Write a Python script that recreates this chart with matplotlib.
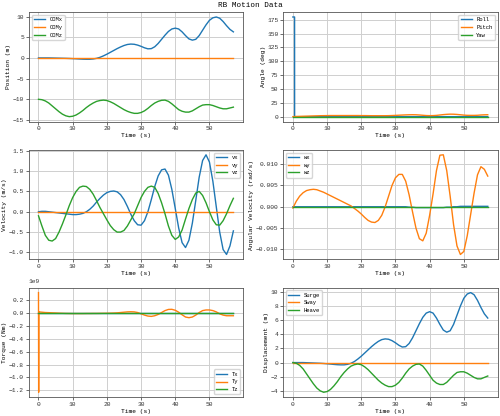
import numpy as np
import matplotlib.pyplot as plt
from matplotlib.ticker import MultipleLocator

plt.rcParams["font.family"] = ["Liberation Mono", "DejaVu Sans Mono"]
plt.rcParams["font.size"] = 4.5

t = np.arange(0, 58)

surge = [0, 0, 0, 0, -0.02, -0.04, -0.06, -0.08, -0.1, -0.13, -0.17, -0.21, -0.26, -0.3, -0.32, -0.32,
         -0.25, -0.1, 0.15, 0.5, 0.9, 1.35, 1.8, 2.25, 2.65, 3.0, 3.25, 3.35, 3.3, 3.1, 2.8, 2.45, 2.2,
         2.25, 2.7, 3.5, 4.5, 5.5, 6.4, 7.0, 7.2, 7.0, 6.3, 5.4, 4.6, 4.3, 4.5, 5.4, 6.7, 8.0, 9.1, 9.7,
         9.9, 9.6, 8.8, 7.8, 6.9, 6.3]
heave = [0, -0.1, -0.4, -0.9, -1.6, -2.3, -3.0, -3.6, -4.0, -4.2, -4.1, -3.8, -3.3, -2.7, -2.0, -1.4,
         -0.9, -0.5, -0.3, -0.2, -0.3, -0.6, -1.0, -1.5, -2.0, -2.5, -2.9, -3.2, -3.4, -3.4, -3.2, -2.8,
         -2.2, -1.5, -0.9, -0.5, -0.25, -0.2, -0.5, -1.1, -1.8, -2.5, -2.9, -3.1, -3.1, -2.8, -2.3, -1.8,
         -1.4, -1.3, -1.3, -1.5, -1.8, -2.1, -2.3, -2.3, -2.1, -1.9]
com_x = surge
com_y = [0.0] * 58
com_z = [h - 10 for h in heave]

vx = [0, 0.01, 0.01, 0, -0.01, -0.02, -0.03, -0.04, -0.05, -0.06, -0.07, -0.07, -0.06, -0.04, 0.0, 0.06,
      0.14, 0.24, 0.33, 0.41, 0.47, 0.5, 0.51, 0.49, 0.42, 0.3, 0.13, -0.06, -0.22, -0.32, -0.33, -0.22,
      0.0, 0.3, 0.62, 0.88, 1.03, 1.05, 0.9, 0.55, 0.08, -0.4, -0.76, -0.88, -0.7, -0.28, 0.28, 0.85,
      1.26, 1.4, 1.22, 0.75, 0.12, -0.5, -0.93, -1.05, -0.84, -0.47]
vy = [0.0] * 58
vz = [-0.1, -0.35, -0.58, -0.7, -0.72, -0.66, -0.5, -0.3, -0.08, 0.15, 0.35, 0.5, 0.6, 0.63, 0.62, 0.55,
      0.43, 0.27, 0.1, -0.05, -0.2, -0.34, -0.44, -0.5, -0.5, -0.46, -0.35, -0.2, -0.05, 0.15, 0.35, 0.5,
      0.6, 0.63, 0.6, 0.45, 0.22, -0.05, -0.35, -0.58, -0.68, -0.62, -0.45, -0.18, 0.08, 0.3, 0.46, 0.5,
      0.4, 0.22, 0.0, -0.2, -0.32, -0.33, -0.22, -0.05, 0.15, 0.33]

wx = [0.0] * 34 + [-0.0001, -0.0001, -0.0002, -0.0002, -0.0002, -0.0002, -0.0002, -0.0002, -0.0002,
                   -0.0002, -0.0002, -0.0001, -0.0001, 0.0, 0.0, 0.0001, 0.0001, 0.0001, 0.0001, 0.0001,
                   0.0001, 0.0001, 0.0001, 0.0001]
wy = [-0.0003, 0.0013, 0.0025, 0.0033, 0.0038, 0.004, 0.0041, 0.004, 0.0037, 0.0034, 0.003, 0.0026,
      0.0022, 0.0018, 0.0014, 0.001, 0.0006, 0.0002, -0.0004, -0.001, -0.0017, -0.0025, -0.0032, -0.0036,
      -0.0037, -0.0032, -0.002, 0.0, 0.0025, 0.005, 0.0068, 0.0076, 0.0076, 0.006, 0.0028, -0.0012,
      -0.005, -0.0075, -0.008, -0.0062, -0.002, 0.003, 0.0085, 0.0121, 0.0122, 0.0085, 0.0025, -0.0042,
      -0.0092, -0.0112, -0.0105, -0.0068, -0.0018, 0.0032, 0.0075, 0.0094, 0.0088, 0.0072]
wz = [0.0] * 58

# angles: roll starts at 180 deg for the first half second
t_ang = np.concatenate([[0, 0.5, 0.51], t[1:]])
roll = [180, 180, 0] + [0.0] * 57
pitch = [0, 0, 0.2] + [0.3, 0.5, 0.7, 0.9, 1.1, 1.3, 1.5, 1.7, 1.8, 1.9, 2.0, 2.0, 2.0, 2.0, 2.0, 2.0,
                       2.0, 2.0, 2.0, 1.9, 1.9, 1.8, 1.7, 1.7, 1.7, 1.7, 1.7, 1.8, 2.0, 2.3, 2.6, 2.9,
                       3.2, 3.4, 3.5, 3.4, 3.0, 2.5, 2.0, 1.8, 1.9, 2.3, 3.0, 3.7, 4.2, 4.5, 4.4, 4.0,
                       3.4, 2.8, 2.4, 2.3, 2.3, 2.5, 3.0, 3.3, 3.5]
yaw = [0.0] * 60

# torque: large spike at t=0
t_tq = np.concatenate([[0, 0.05, 0.1], t[1:]])
tx = [0.0] * 60
ty = [0.32e9, -1.23e9, 0.02e9] + [v * 1e9 for v in
      [0.015, 0.01, 0.008, 0.005, 0.003, 0.0, -0.002, -0.004, -0.005, -0.006, -0.006, -0.006, -0.006,
       -0.005, -0.005, -0.004, -0.004, -0.003, -0.002, -0.001, 0.0, 0.002, 0.005, 0.01, 0.015, 0.02,
       0.022, 0.02, 0.01, -0.01, -0.03, -0.045, -0.05, -0.04, -0.02, 0.01, 0.04, 0.058, 0.06, 0.045,
       0.015, -0.025, -0.06, -0.07, -0.06, -0.03, 0.01, 0.04, 0.05, 0.05, 0.04, 0.02, -0.01, -0.03,
       -0.04, -0.04, -0.04][:57]]
tz = [0.0] * 60

fig, axes = plt.subplots(3, 2, figsize=(5, 4.16), dpi=100)
fig.suptitle("RB Motion Data", fontsize=5.5, y=0.995)


def style(ax, ylabel):
    ax.set_xlabel("Time (s)")
    ax.set_ylabel(ylabel)
    ax.grid(True, color="#cfcfcf", linewidth=0.7)
    ax.tick_params(length=2, width=0.5, pad=1.5, colors="#333333")
    for s in ax.spines.values():
        s.set_linewidth(0.6)
        s.set_color("#555555")
    ax.xaxis.labelpad = 1
    ax.yaxis.labelpad = 1


LW = 1.0

ax = axes[0, 0]
ax.plot(t, com_x, label="COMx", lw=LW)
ax.plot(t, com_y, label="COMy", lw=LW)
ax.plot(t, com_z, label="COMz", lw=LW)
style(ax, "Position (m)")
ax.legend(loc="upper left", fontsize=4)

ax = axes[0, 1]
ax.plot(t_ang, roll, label="Roll", lw=LW)
ax.plot(t_ang, pitch, label="Pitch", lw=LW)
ax.plot(t_ang, yaw, label="Yaw", lw=LW)
style(ax, "Angle (deg)")
ax.legend(loc="upper right", fontsize=4)

ax = axes[1, 0]
ax.plot(t, vx, label="vx", lw=LW)
ax.plot(t, vy, label="vy", lw=LW)
ax.plot(t, vz, label="vz", lw=LW)
style(ax, "Velocity (m/s)")
ax.legend(loc="upper right", fontsize=4)

ax = axes[1, 1]
ax.plot(t, wx, label="wx", lw=LW)
ax.plot(t, wy, label="wy", lw=LW)
ax.plot(t, wz, label="wz", lw=LW)
style(ax, "Angular Velocity (rad/s)")
ax.legend(loc="upper left", fontsize=4)

ax = axes[2, 0]
ax.plot(t_tq, tx, label="Tx", lw=LW)
ax.plot(t_tq, ty, label="Ty", lw=LW)
ax.plot(t_tq, tz, label="Tz", lw=LW)
style(ax, "Torque (Nm)")
ax.yaxis.set_major_locator(MultipleLocator(0.2e9))
ax.yaxis.get_offset_text().set_fontsize(4.5)
ax.legend(loc="lower right", fontsize=4)

ax = axes[2, 1]
ax.plot(t, surge, label="Surge", lw=LW)
ax.plot(t, com_y, label="Sway", lw=LW)
ax.plot(t, heave, label="Heave", lw=LW)
style(ax, "Displacement (m)")
ax.legend(loc="upper left", fontsize=4)

fig.tight_layout(pad=0.4, h_pad=0.6, w_pad=1.0)
fig.savefig("out.png", dpi=100)
